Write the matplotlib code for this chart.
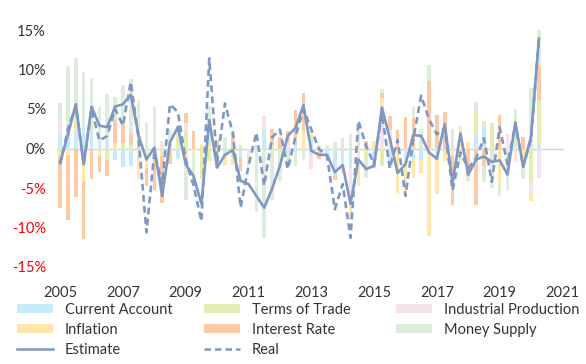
import numpy as np
import matplotlib.pyplot as plt
from matplotlib.lines import Line2D
from matplotlib.patches import Patch

plt.rcParams["font.family"] = ["Lato", "DejaVu Sans"]

# --- data (quarterly, 2005Q1 .. 2020Q2) ---
years = ["2005", "2007", "2009", "2011", "2013", "2015", "2017", "2019", "2021"]

current_account = [1.8, 2.0, 2.3, 2.8, 2.5, 1.5, 0.8, -1.4, -2.4, -2.2,
                   0, 0, 0, 0, 0, -1.3, 0, 0, 0, 0,
                   0, -1.0, 0, -1.2, 0, 0.5, 2.4, 0, 0, -0.8,
                   0.5, 0, 1.3, 0, -1.4, -3.5, -2.6, -2.5, 0, 0,
                   -2.5, 0, -2.5, 0, -1.6, -1.4, -1.4, 0, -1.4, 0,
                   0.5, 0, 0, 1.6, 2.8, 0, 0, 0, 0.5, 0,
                   0, 0.5]
terms_of_trade = [-0.3, 0, 0, 0, 0.5, 0, -1.5, 0, 0.7, 0.4,
                  -1.5, -1.5, 0, -1.0, 0, 1.5, 2.2, 0, -3.9, -1.6,
                  -1.0, 0, -1.0, 0.5, 0, 0, 0, 0, 0, -1.0,
                  0, 0, 0, 0, 0, 0, 0, 0, 0, -1.5,
                  0, -2.2, 0, 0, 0, 0, 0, 0, 0, 0,
                  0, -1.6, 0, 3.0, 0, 3.2, 0, 0, 3.2, 0,
                  -4.1, 5.7]
industrial_prod = [2.0, 0.8, 0, 0, 0, 0, 0, 0, 0, 0,
                   0, 0, 0, 1.0, 0, 0.5, 1.0, 0, 0, 0,
                   0, 0, 0, 0, -1.0, 0, 1.4, 0, 0, 0.8,
                   0, 0, -2.6, 0, 0, 0, -0.5, -4.0, -1.5, 0,
                   0, 5.4, 2.4, 0, 0, 0, 0, -0.3, 0, 0,
                   0, 0, 0, 0, 0, 0, 0, 1.8, -1.7, 0,
                   -1.5, -3.7]
inflation = [-0.5, -0.8, 1.2, -4.3, 0.4, -1.0, 0, 0.7, 0, 0,
             -2.4, -1.0, -1.5, 0, 0, 0, -2.2, -0.5, 0.6, 0.4,
             0, -1.1, -1.1, 0, -1.2, 0, 0.3, 0.4, 0, 0,
             0, 2.4, 0.5, -0.5, 0, 0, 0, -2.5, -3.3, 0,
             0.9, 1.0, 0, -5.6, -4.6, -2.3, -1.7, -10.8, -4.3, -1.6,
             -1.0, 2.8, 0.8, 0, 0.7, 0, -4.8, 0, 0, -2.6,
             -1.0, 0]
interest_rate = [-6.7, -8.2, -6.2, -7.2, -3.9, -2.0, -2.0, 2.9, 2.4, 1.4,
                 1.0, -2.3, -3.8, -5.9, -1.9, 0, 1.3, 2.2, 0, 0,
                 1.1, 0, 1.9, -1.7, 0, 0, 0, 2.1, 1.5, 1.4,
                 4.4, 4.6, 0, -0.8, 0, -0.5, 0, 0, 0, 0.9,
                 0, 0.6, 1.7, 2.4, 4.0, 3.9, 0, 8.6, 4.3, 4.6,
                 -6.2, 0, -3.5, -7.2, -2.2, 0, 4.3, 0, 0, 1.4,
                 0, 4.2]
money_supply = [1.9, 7.7, 7.9, 6.9, 5.5, 3.8, 6.1, 2.9, 4.9, 7.0,
                5.2, 3.2, 5.3, 0, 2.4, 1.0, -4.3, -4.1, 0, 5.0,
                -1.6, 1.5, 0, 0, 0, -8.1, -11.3, -6.5, -4.1, 0,
                -2.2, -1.5, 0, 0.5, 0.5, 0.8, 1.3, 1.8, 2.2, -2.2,
                0, 0.5, 0, 0, 0, 1.4, 2.5, 2.0, 0, 0,
                2.0, 0, -0.6, 1.3, -2.1, -5.0, -1.2, -5.3, 1.3, -1.2,
                7.7, 4.7]

estimate = [-1.8, 1.8, 5.6, -2.0, 5.3, 2.9, 2.7, 5.3, 5.6, 6.8,
            1.6, -1.4, 0.1, -6.0, 0.8, 2.7, -2.0, -3.5, -7.0, 3.6,
            -2.4, -0.8, -0.2, -4.1, -4.5, -6.0, -7.5, -5.1, -2.2, 1.6,
            2.6, 5.5, -0.3, -0.8, -0.8, -3.0, -2.1, -7.0, -1.4, -2.6,
            -2.2, 5.2, 1.3, -3.1, -2.0, 1.7, 1.6, -0.5, -1.3, 3.1,
            -4.3, 1.9, -3.3, -1.4, -1.0, -1.7, -1.5, -3.3, 3.3, -2.3,
            1.5, 13.9]
real = [-2.0, 2.5, 5.4, -2.0, 5.0, 1.0, 1.6, 5.0, 2.9, 8.4,
        1.2, -10.6, -0.5, -4.5, 5.6, 4.6, -1.4, -4.7, -9.2, 11.4,
        -1.8, 5.7, 2.0, -7.5, -2.2, 2.0, -4.7, 1.4, 2.4, -2.6,
        1.6, 5.0, 2.4, -0.1, -0.9, -7.7, -4.5, -11.3, 3.5, 0.3,
        -2.0, 4.4, -2.5, 1.1, -6.0, 1.2, 6.7, 3.7, 1.8, 2.6,
        -5.3, -0.5, -2.5, -1.2, 1.3, -4.2, 2.7, -2.0, 3.1, -2.3,
        1.2, 13.9]

components = [
    ("Current Account", current_account, "#C8EAF9"),
    ("Terms of Trade", terms_of_trade, "#E3EDB1"),
    ("Industrial Production", industrial_prod, "#F6E3EA"),
    ("Inflation", inflation, "#FFE7AC"),
    ("Interest Rate", interest_rate, "#FDC9A5"),
    ("Money Supply", money_supply, "#DDEDDB"),
]
line_col = "#7F98C3"

# --- plot ---
fig = plt.figure(figsize=(5.86, 3.64), dpi=100)
ax = fig.add_axes([57 / 586, 1 - 267 / 364, 507 / 586, 237 / 364])

x = np.arange(len(estimate))
pos_base = np.zeros(len(x))
neg_base = np.zeros(len(x))
for name, vals, col in components:
    v = np.array(vals, dtype=float)
    bottom = np.where(v >= 0, pos_base, neg_base)
    ax.bar(x, v, bottom=bottom, width=0.46, color=col, linewidth=0, zorder=1)
    pos_base += np.clip(v, 0, None)
    neg_base += np.clip(v, None, 0)

ax.axhline(0, color="#D4D4D4", linewidth=1.0, zorder=0.5)
ax.plot(x, estimate, color=line_col, linewidth=1.9, zorder=3)
ax.plot(x, real, color=line_col, linewidth=1.9, linestyle=(0, (2.6, 1.6)), zorder=3)

ax.set_xlim(-0.4, 64.2)
ax.set_ylim(-15, 15)
ax.set_xticks(np.arange(0, 65, 8))
ax.set_xticklabels(years)
yt = np.arange(-15, 16, 5)
ax.set_yticks(yt)
ax.set_yticklabels([f"{v}%" for v in yt])
ax.tick_params(axis="both", length=0, labelsize=10.5, colors="#333333")
ax.tick_params(axis="x", pad=14)
ax.tick_params(axis="y", pad=8)
# negative percentages in red
for lbl, v in zip(ax.get_yticklabels(), yt):
    lbl.set_color("#FF0000" if v < 0 else "#333333")
for s in ax.spines.values():
    s.set_visible(False)

# --- legend in three columns ---
h = {name: Patch(facecolor=col, edgecolor="none") for name, _, col in components}
h["Estimate"] = Line2D([], [], color=line_col, linewidth=1.8)
h["Real"] = Line2D([], [], color=line_col, linewidth=1.8, linestyle=(0, (2.6, 1.6)))
cols = [["Current Account", "Inflation", "Estimate"],
        ["Terms of Trade", "Interest Rate", "Real"],
        ["Industrial Production", "Money Supply"]]
for names, xl in zip(cols, [11 / 586, 198 / 586, 390 / 586]):
    fig.legend([h[n] for n in names], names, loc="upper left",
               bbox_to_anchor=(xl, 1 - 297 / 364), frameon=False,
               fontsize=10.5, handlelength=2.5, handleheight=0.55,
               handletextpad=0.8, labelspacing=0.42, borderaxespad=0,
               labelcolor="#333333")

fig.savefig("out.png", dpi=100)
